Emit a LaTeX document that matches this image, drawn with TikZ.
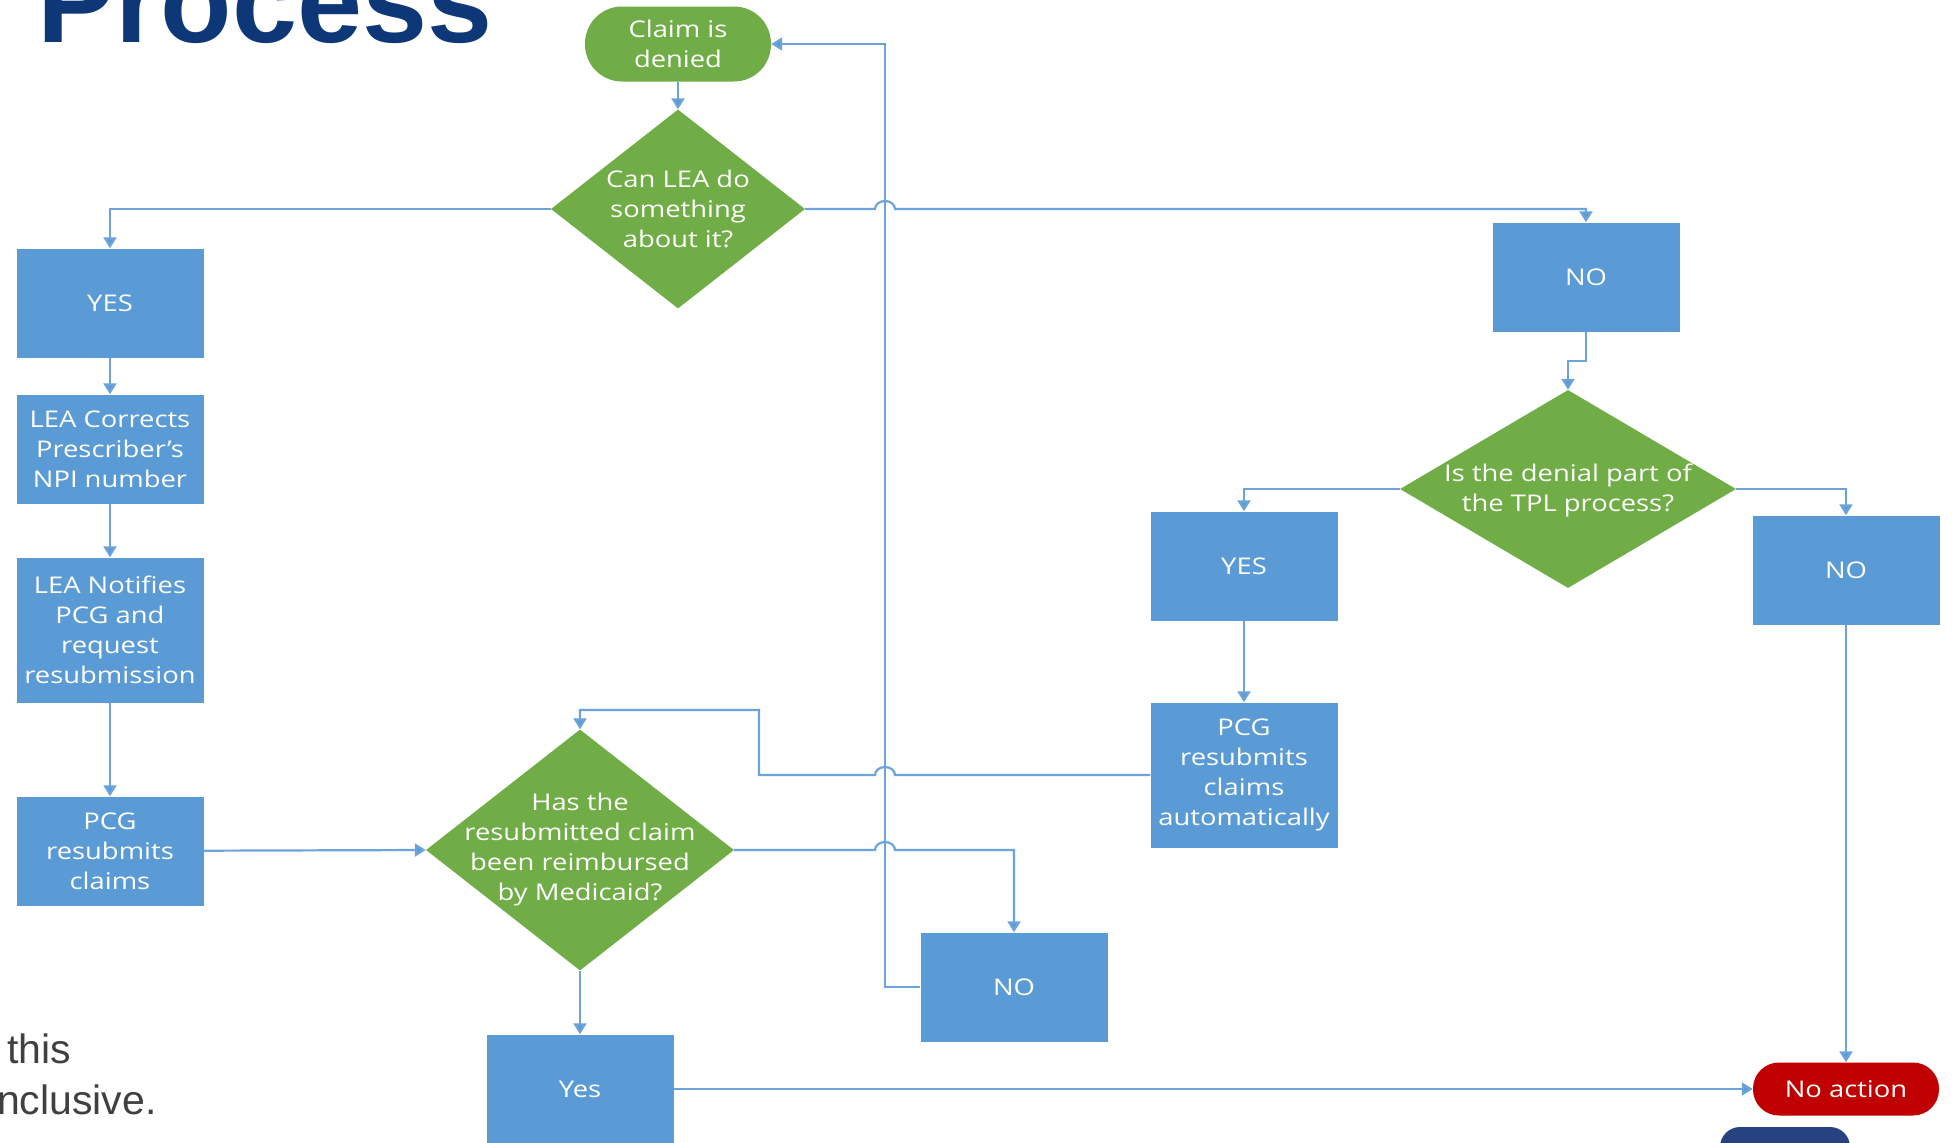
\documentclass[tikz,border=0pt]{standalone}
\usepackage{fontspec}
\setmainfont{Open Sans}[FakeStretch=1.19]
\newfontfamily\arialfont{Liberation Sans}
\usetikzlibrary{shapes.geometric,arrows.meta}
\definecolor{boxblue}{RGB}{91,155,213}
\definecolor{linkblue}{RGB}{108,163,218}
\definecolor{decgreen}{RGB}{112,173,71}
\definecolor{stopred}{RGB}{192,0,0}
\definecolor{titleblue}{RGB}{14,55,120}
\definecolor{slideblue}{RGB}{38,66,128}
\definecolor{bodygrey}{RGB}{64,64,64}

\begin{document}
\begin{tikzpicture}[x=1pt,y=-1pt,
	every node/.style={text=white,font=\fontsize{23}{30}\selectfont,align=center,inner sep=0pt},
	box/.style={rectangle,fill=boxblue,minimum width=187pt,minimum height=109pt},
	tallbox/.style={box,minimum height=145pt},
	decision/.style={diamond,fill=decgreen},
	terminal/.style={rectangle,minimum width=186pt},
	conn/.style={draw=linkblue,line width=2.2pt,-{Triangle[length=11pt,width=13pt,fill=boxblue]}}]
	\useasboundingbox (0,0) rectangle (1960,1143);
	\clip (0,0) rectangle (1960,1143);

	% slide leftovers
	\node[font=\arialfont\bfseries\fontsize{117}{120}\selectfont,text=titleblue,anchor=base west] (title) at (37,42) {Process};
	\node[font=\arialfont\fontsize{41}{46}\selectfont,text=bodygrey,anchor=base west] (body1) at (7,1063) {this};
	\node[font=\arialfont\fontsize{41}{46}\selectfont,text=bodygrey,anchor=base west] (body2) at (-3,1114) {nclusive.};
	\fill[slideblue,rounded corners=20pt] (1720,1127) rectangle (1850,1200);

	% top
	\node[terminal,fill=decgreen,minimum height=75pt,rounded corners=37pt] (claim) at (678,44) {Claim is\\denied};
	\node[decision,minimum width=254pt,minimum height=199pt] (q1) at (678,209) {};
	\node (q1txt) at (q1) {Can LEA do\\something\\about it?};

	% left column
	\node[box] (yesL) at (110,303) {YES};
	\node[box] (fix) at (110,449) {LEA Corrects\\Prescriber's\\NPI number};
	\node[tallbox] (notify) at (110,630) {LEA Notifies\\PCG and\\request\\resubmission};
	\node[box] (resub) at (110,851) {PCG\\resubmits\\claims};

	% middle
	\node[decision,minimum width=308pt,minimum height=241pt] (q2) at (580,850) {};
	\node (q2txt) at (q2) {Has the\\resubmitted claim\\been reimbursed\\by Medicaid?};
	\node[box] (yesB) at (580,1089) {Yes};
	\node[box] (noM) at (1014,987) {NO};

	% right
	\node[box] (noT) at (1586,277) {NO};
	\node[decision,minimum width=336pt,minimum height=198pt] (q3) at (1568,489) {};
	\node (q3txt) at (1568,490) {Is the denial part of\\the TPL process?};
	\node[box] (yesR) at (1244,566) {YES};
	\node[tallbox] (auto) at (1244,775) {PCG\\resubmits\\claims\\automatically};
	\node[box] (noR) at (1846,570) {NO};
	\node[terminal,fill=stopred,minimum height=53pt,rounded corners=26pt] (stop) at (1846,1089) {No action};

	\coordinate (hopL) at (875,0);
	\coordinate (hopR) at (895,0);
	\coordinate (back) at (885,44);
	\coordinate (elbow) at (759,710);

	\draw[conn] (claim) -- (q1);
	\draw[conn] (q1.west) -| (yesL.north);
	\draw[conn] (q1.east) -- (q1.east -| hopL) arc[start angle=180,end angle=0,x radius=10pt,y radius=8pt] -| (noT.north);
	\draw[conn] (yesL) -- (fix);
	\draw[conn] (fix) -- (notify);
	\draw[conn] (notify) -- (resub);
	\draw[conn] (resub) -- (q2.west);

	\draw[conn] (noT.south) -- ++(0,29) -| (q3.north);
	\draw[conn] (q3.west) -| (yesR.north);
	\draw[conn] (q3.east) -| (noR.north);
	\draw[conn] (yesR) -- (auto);
	\draw[conn] (auto.west) -- (auto.west -| hopR) arc[start angle=0,end angle=180,x radius=10pt,y radius=8pt] -- (auto.west -| elbow) -- (elbow) -| (q2.north);

	\draw[conn] (q2.east) -- (q2.east -| hopL) arc[start angle=180,end angle=0,x radius=10pt,y radius=8pt] -| (noM.north);
	\draw[conn] (noM.west) -| (back) -- (claim.east);
	\draw[conn] (q2.south) -- (yesB.north);
	\draw[conn] (yesB.east) -- (stop.west);
	\draw[conn] (noR.south) -- (stop.north);

\end{tikzpicture}
\end{document}
